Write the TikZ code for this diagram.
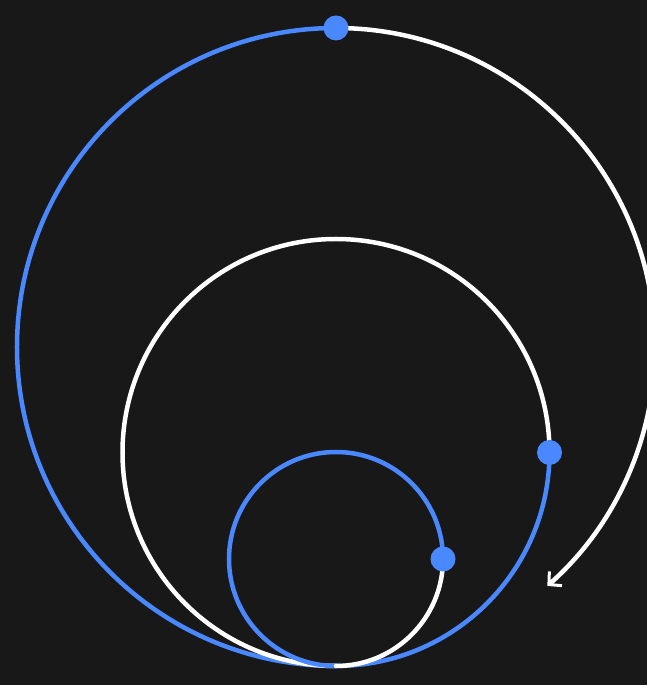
\documentclass[tikz,border=0pt]{standalone}
\usetikzlibrary{arrows.meta}
\definecolor{bgdark}{RGB}{24,24,24}
\definecolor{orbblue}{RGB}{74,136,255}

\begin{document}
\begin{tikzpicture}[x=1pt,y=1pt,line cap=round,line join=round]
\tikzset{
  orbit/.style={line width=4.5pt},
  dot/.style={circle,fill=orbblue,inner sep=0pt,minimum size=25pt}
}
\fill[bgdark] (-336,-19) rectangle (311,666);
\useasboundingbox (-336,-19) rectangle (311,666);
% outer orbit
\draw[orbit,orbblue] (0,638) arc[start angle=90,end angle=270,radius=319];
\draw[orbit,white,-{Straight Barb[length=9pt,width=19pt,line width=3pt]}] (0,638) arc[start angle=90,end angle=-48.5,radius=319];
% middle orbit
\draw[orbit,white] (213.5,213.5) arc[start angle=0,end angle=270,radius=213.5];
\draw[orbit,orbblue] (213.5,213.5) arc[start angle=0,end angle=-90,radius=213.5];
% inner orbit
\draw[orbit,orbblue] (107,107) arc[start angle=0,end angle=270,radius=107];
\draw[orbit,white] (107,107) arc[start angle=0,end angle=-90,radius=107];
% markers
\node[dot] (outerdot) at (0,638) {};
\node[dot] (middot) at (213.5,213.5) {};
\node[dot] (innerdot) at (107,107) {};
\end{tikzpicture}
\end{document}
